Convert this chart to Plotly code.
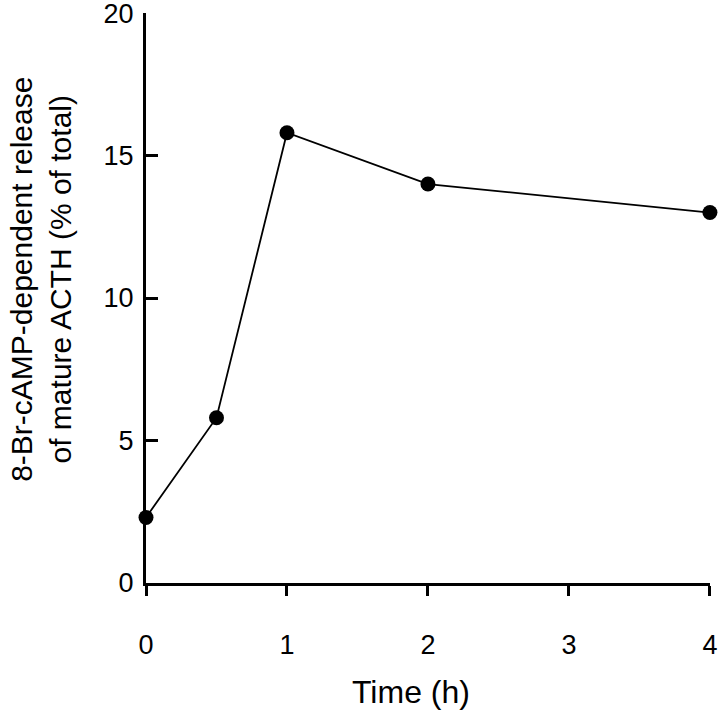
import plotly.graph_objects as go

time_h = [0, 0.5, 1, 2, 4]
release_pct = [2.3, 5.8, 15.8, 14.0, 13.0]
x_ticks = [0, 1, 2, 3, 4]
y_ticks = [0, 5, 10, 15, 20]

FONT = "Liberation Sans, Arial, Helvetica, sans-serif"

fig = go.Figure()
fig.add_trace(go.Scatter(
    x=time_h, y=release_pct, mode="lines+markers",
    line=dict(color="black", width=1.8),
    marker=dict(color="black", size=15),
    cliponaxis=False, showlegend=False,
))

fig.update_layout(
    width=720, height=716,
    margin=dict(l=146, r=10, t=13, b=133),
    paper_bgcolor="white", plot_bgcolor="white",
    font=dict(family=FONT, size=27, color="black"),
    xaxis=dict(range=[0, 4.0005], tickvals=x_ticks, ticks="outside", ticklen=10, tickwidth=2.5,
               tickcolor="black", showline=True, linewidth=3, linecolor="black",
               showgrid=False, zeroline=False, tickfont=dict(size=27),
               automargin=False, ticklabelstandoff=26, ticklabeloverflow="allow"),
    yaxis=dict(range=[0, 20.002], tickvals=y_ticks, ticks="inside", ticklen=12, tickwidth=2.5,
               tickcolor="black", showline=True, linewidth=3, linecolor="black",
               showgrid=False, zeroline=False, tickfont=dict(size=27),
               automargin=False, ticklabelstandoff=4, ticklabeloverflow="allow"),
    annotations=[
        dict(text="8-Br-cAMP-dependent release<br>of mature ACTH (% of total)",
             xref="paper", yref="paper", x=-0.186, y=0.532, xanchor="center", yanchor="middle",
             textangle=-90, showarrow=False, font=dict(size=30)),
        dict(text="Time (h)", xref="paper", yref="paper", x=0.47, y=-0.191,
             xanchor="center", yanchor="middle", showarrow=False, font=dict(size=32)),
    ],
)

fig.write_html("out.html", config={"displayModeBar": False},
               post_script="document.body.style.margin='0';document.body.style.overflow='hidden';")
